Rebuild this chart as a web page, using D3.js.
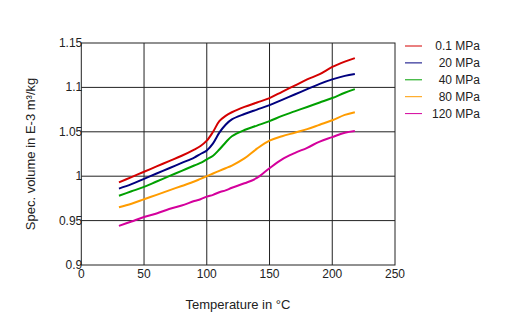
<!DOCTYPE html>
<html><head><meta charset="utf-8">
<script src="https://cdn.jsdelivr.net/npm/d3@7"></script>
<style>body{margin:0;background:#fff}svg{display:block;font-family:"Liberation Sans",Arial,sans-serif}</style>
</head><body><svg id="c" width="520" height="328"></svg>
<script>
const seriesNames = ["0.1 MPa","20 MPa","40 MPa","80 MPa","120 MPa"];
const colors = ["#d40000","#00007f","#00a000","#ff9c00","#d4009c"];
const xTicks = [0,50,100,150,200,250];
const yTicks = [0.9,0.95,1,1.05,1.1,1.15];
const yTickLabels = ["0.9","0.95","1","1.05","1.1","1.15"];
const temps = [30,40,50,60,70,80,90,95,100,105,110,115,120,130,140,150,160,170,180,190,200,210,218];
const v01  = [0.993,0.999,1.005,1.011,1.017,1.023,1.030,1.034,1.040,1.050,1.062,1.068,1.072,1.078,1.083,1.088,1.095,1.102,1.109,1.115,1.123,1.129,1.133];
const v20  = [0.986,0.991,0.997,1.003,1.009,1.015,1.021,1.025,1.029,1.037,1.049,1.058,1.064,1.070,1.075,1.080,1.086,1.092,1.098,1.104,1.109,1.113,1.115];
const v40  = [0.978,0.983,0.988,0.994,1.000,1.006,1.012,1.015,1.019,1.023,1.030,1.038,1.045,1.052,1.057,1.062,1.068,1.073,1.078,1.083,1.088,1.094,1.098];
const v80  = [0.965,0.969,0.974,0.979,0.984,0.989,0.994,0.997,1.000,1.003,1.006,1.009,1.012,1.020,1.031,1.040,1.045,1.049,1.053,1.058,1.063,1.069,1.072];
const v120 = [0.944,0.949,0.954,0.958,0.963,0.967,0.972,0.974,0.977,0.979,0.982,0.984,0.987,0.992,0.998,1.009,1.019,1.026,1.032,1.039,1.044,1.049,1.051];
const allSeries = [v01,v20,v40,v80,v120];

const svg = d3.select("#c");
const L=81.3, R=395, T=43, B=265;
const x = d3.scaleLinear().domain([0,250]).range([L,R]);
const y = d3.scaleLinear().domain([0.9,1.15]).range([B,T]);

// grid
const g = svg.append("g");
g.selectAll(".vg").data(xTicks.slice(1,-1)).enter().append("line")
 .attr("x1",d=>x(d)).attr("x2",d=>x(d)).attr("y1",T).attr("y2",B)
 .attr("stroke","#222").attr("stroke-width",1);
g.selectAll(".hg").data(yTicks.slice(1,-1)).enter().append("line")
 .attr("y1",d=>y(d)).attr("y2",d=>y(d)).attr("x1",L).attr("x2",R)
 .attr("stroke","#222").attr("stroke-width",1);
g.append("rect").attr("x",L).attr("y",T).attr("width",R-L).attr("height",B-T)
 .attr("fill","none").attr("stroke","#222").attr("stroke-width",1);

// tick labels
svg.selectAll(".xl").data(xTicks).enter().append("text")
 .attr("x",d=>x(d)).attr("y",B+13).attr("text-anchor","middle")
 .attr("font-size",12).attr("fill","#222").text(d=>d);
svg.selectAll(".yl").data(yTicks).enter().append("text")
 .attr("x",L+1).attr("y",(d)=>y(d)+4).attr("text-anchor","end")
 .attr("font-size",12).attr("fill","#222").text((d,i)=>yTickLabels[i]);

// lines
const line = d3.line().x((d,i)=>x(temps[i])).y(d=>y(d)).curve(d3.curveCatmullRom);
svg.selectAll(".s").data(allSeries).enter().append("path")
 .attr("d",d=>line(d)).attr("fill","none")
 .attr("stroke",(d,i)=>colors[i]).attr("stroke-width",2);

// legend
const lg = svg.append("g");
seriesNames.forEach((n,i)=>{
  const yy = 46 + i*16.9;
  lg.append("line").attr("x1",405).attr("x2",422).attr("y1",yy).attr("y2",yy)
    .attr("stroke",colors[i]).attr("stroke-width",1);
  lg.append("text").attr("x",480).attr("y",yy+4).attr("text-anchor","end")
    .attr("font-size",12).attr("fill","#222").text(n);
});

// axis titles
svg.append("text").attr("x",238).attr("y",309).attr("text-anchor","middle")
 .attr("font-size",13).attr("fill","#222").text("Temperature in °C");
svg.append("text").attr("transform","translate(35,154) rotate(-90)")
 .attr("text-anchor","middle").attr("font-size",13).attr("fill","#222")
 .text("Spec. volume in E-3 m³/kg");
</script></body></html>
